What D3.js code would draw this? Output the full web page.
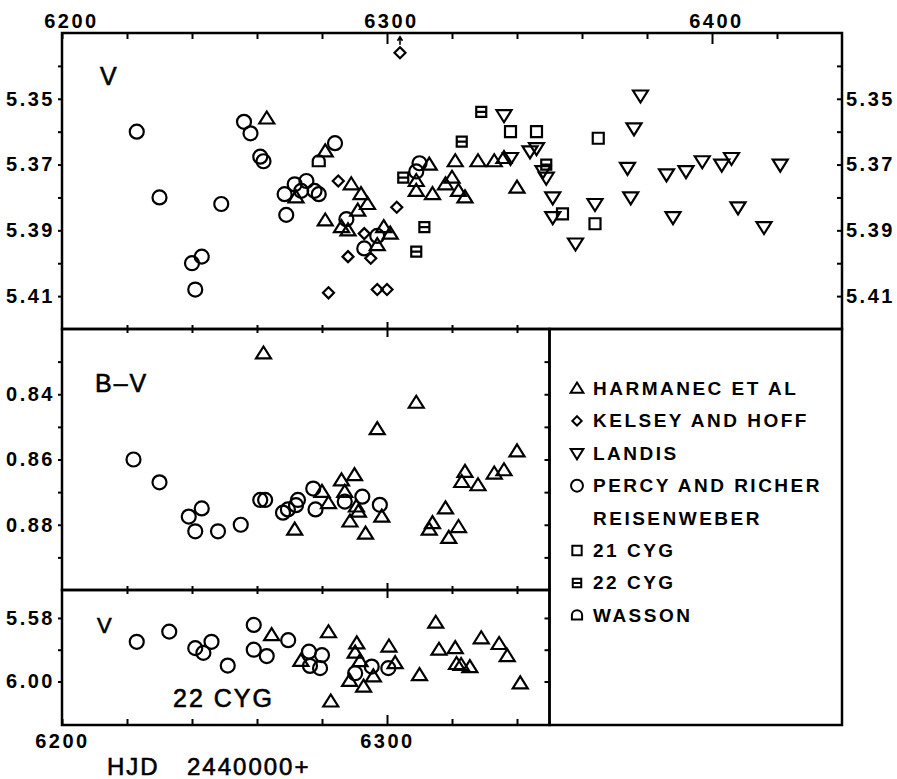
<!DOCTYPE html>
<html>
<head>
<meta charset="utf-8">
<script src="https://cdn.jsdelivr.net/npm/d3@7"></script>
<style>
  body { margin: 0; background: #fff; }
  svg text { font-family: "Liberation Sans", Arial, sans-serif; fill: #000; }
  .axis text { font: bold 20px "Liberation Sans", Arial, sans-serif; letter-spacing: 2.5px; fill: #000; }
  .axis line { stroke: #000; stroke-width: 2px; }
</style>
</head>
<body>
<div id="chart"></div>
<script>
// ---- top panel: V of the variable, HJD - 2440000 ----
const harmanecV = [
  [6263, 5.356], [6281, 5.366], [6272, 5.380], [6289, 5.376], [6292, 5.379], [6294, 5.382],
  [6291, 5.384], [6281, 5.387], [6286, 5.389], [6288, 5.390], [6297, 5.3945], [6299, 5.389],
  [6301, 5.391], [6309, 5.375], [6309, 5.378], [6313, 5.370], [6314, 5.379], [6318, 5.376],
  [6320, 5.374], [6322, 5.378], [6324, 5.380], [6321, 5.369], [6328, 5.369], [6333, 5.369],
  [6336, 5.368], [6340, 5.377]
];
const kelseyV = [
  [6304, 5.336], [6285, 5.375], [6303, 5.383], [6293, 5.391], [6288, 5.398], [6295, 5.3985],
  [6282, 5.409], [6297, 5.408], [6300, 5.408]
];
const landisV = [
  [6336, 5.355], [6378, 5.349], [6376, 5.359], [6338, 5.368], [6344, 5.366], [6346, 5.365],
  [6348, 5.372], [6349, 5.374], [6351, 5.380], [6351, 5.386], [6358, 5.394], [6364, 5.382],
  [6374, 5.371], [6375, 5.380], [6386, 5.373], [6388, 5.386], [6392, 5.372], [6397, 5.369],
  [6403, 5.370], [6406, 5.368], [6408, 5.383], [6416, 5.389], [6421, 5.370]
];
const percyV = [
  [6223, 5.360], [6230, 5.380], [6249, 5.382], [6240, 5.400], [6243, 5.398], [6241, 5.408],
  [6256, 5.357], [6258, 5.3605], [6261, 5.3676], [6262, 5.369], [6284, 5.3635], [6268.5, 5.379],
  [6271.6, 5.376], [6273.6, 5.378], [6275.2, 5.375], [6277.7, 5.378], [6279, 5.379], [6269, 5.3853],
  [6287.5, 5.3866], [6293, 5.3955], [6297, 5.3917], [6310, 5.3696], [6309, 5.3721]
];
const cyg21V = [[6338, 5.360], [6346, 5.360], [6365, 5.362], [6354, 5.385], [6364, 5.388]];
const cyg22V = [[6305, 5.374], [6311.5, 5.389], [6309, 5.3965], [6329, 5.354], [6323, 5.363], [6349, 5.370]];
const wassonV = [[6279, 5.369]];
const arrowPoints = [[6304, 5.336]];

// ---- middle panel: B-V ----
const percyBV = [
  [6222, 0.860], [6230, 0.867], [6239, 0.8775], [6243, 0.875], [6241, 0.882], [6248, 0.882],
  [6255, 0.880], [6261, 0.8724], [6262.5, 0.8724], [6268, 0.8763], [6269.5, 0.8753], [6272, 0.874],
  [6272.6, 0.8724], [6277.3, 0.8689], [6278, 0.8753], [6287, 0.8729], [6292.4, 0.8714], [6297.8, 0.8739]
];
const harmanecBV = [
  [6262, 0.8275], [6309, 0.8426], [6297, 0.8507], [6340, 0.8575], [6336, 0.8633], [6333, 0.8643],
  [6324, 0.8638], [6323, 0.8669], [6328, 0.8679], [6318, 0.875], [6314, 0.8795], [6313, 0.8815],
  [6322, 0.8807], [6319, 0.884], [6286, 0.8664], [6290, 0.8648], [6287, 0.8699], [6280, 0.8699],
  [6282, 0.8734], [6290.6, 0.8744], [6291.2, 0.876], [6288.6, 0.879], [6293.4, 0.8827],
  [6298.4, 0.8775], [6271.6, 0.8815]
];

// ---- bottom panel: V of 22 Cyg ----
const percy22 = [
  [6223, 5.9875], [6233, 5.9843], [6241, 5.9895], [6243.5, 5.991], [6246, 5.9875], [6251, 5.995],
  [6259, 5.9822], [6259, 5.990], [6263, 5.992], [6269.6, 5.987], [6276, 5.9906], [6280, 5.9917],
  [6276.3, 5.9951], [6279.4, 5.9958], [6290.2, 5.9974], [6295.3, 5.9953], [6300.4, 5.9958]
];
const harmanec22 = [
  [6264.5, 5.9854], [6273.5, 5.9935], [6282, 5.9845], [6282.7, 6.0063], [6290.7, 5.988], [6290.2, 5.9909],
  [6291.7, 5.9936], [6288.5, 5.9998], [6292.8, 6.0016], [6295.8, 5.9984], [6300.6, 5.989], [6302.5, 5.9942],
  [6310, 5.998], [6315, 5.9815], [6316, 5.990], [6321, 5.9895], [6321.4, 5.9945], [6322.8, 5.9948],
  [6325.5, 5.9955], [6329, 5.9864], [6334.5, 5.9882], [6337, 5.992], [6341, 6.0006]
];

// ---- ticks and legend ----
const xTicks = d3.range(6220, 6440, 20);
const xLabels = [6200, 6300, 6400];
const yTicksV = [5.34, 5.35, 5.36, 5.37, 5.38, 5.39, 5.40, 5.41];
const yLabelsV = ['', '5.35', '', '5.37', '', '5.39', '', '5.41'];
const yTicksBV = [0.83, 0.84, 0.85, 0.86, 0.87, 0.88, 0.89];
const yLabelsBV = ['', '0.84', '', '0.86', '', '0.88', ''];
const yTicks22 = [5.98, 5.99, 6.00];
const yLabels22 = ['5.58', '', '6.00'];   // printed this way in the original
const legendLabels = ['HARMANEC ET AL', 'KELSEY AND HOFF', 'LANDIS', 'PERCY AND RICHER', 'REISENWEBER', '21 CYG', '22 CYG', 'WASSON'];
const legendSymbols = ['up', 'diamond', 'down', 'circle', null, 'square', 'squareBar', 'arch'];

const W = 897, H = 779;
const svg = d3.select('#chart').append('svg').attr('width', W).attr('height', H);

const x = d3.scaleLinear().domain([6200, 6440]).range([62, 842]);
const xSplit = x(6350);
const yV = d3.scaleLinear().domain([5.33, 5.42]).range([33, 329]);
const yBV = d3.scaleLinear().domain([0.82, 0.90]).range([329, 590]);
const y22 = d3.scaleLinear().domain([5.9712, 6.0137]).range([590, 725]);

// marker outlines, k scales them down for the legend
function shape(type, k = 1) {
  const p = v => (v * k).toFixed(2);
  switch (type) {
    case 'up': return `M0,${p(-7)}L${p(7.5)},${p(5)}L${p(-7.5)},${p(5)}Z`;
    case 'down': return `M${p(-7.5)},${p(-5)}L${p(7.5)},${p(-5)}L0,${p(7)}Z`;
    case 'diamond': return `M0,${p(-5.5)}L${p(5.5)},0L0,${p(5.5)}L${p(-5.5)},0Z`;
    case 'circle': return `M${p(-7)},0A${p(7)},${p(7)} 0 1,0 ${p(7)},0A${p(7)},${p(7)} 0 1,0 ${p(-7)},0Z`;
    case 'square': return `M${p(-5.5)},${p(-5.5)}H${p(5.5)}V${p(5.5)}H${p(-5.5)}Z`;
    case 'squareBar': return `M${p(-5)},${p(-5)}H${p(5)}V${p(5)}H${p(-5)}ZM${p(-5)},0H${p(5)}`;
    case 'arch': return `M${p(-6)},${p(5)}V0A${p(6)},${p(6)} 0 0,1 ${p(6)},0V${p(5)}Z`;
  }
}

function plotSeries(data, type, yScale) {
  svg.append('g').selectAll('path').data(data).join('path')
    .attr('transform', d => `translate(${x(d[0])},${yScale(d[1])})`)
    .attr('d', shape(type))
    .attr('fill', 'none')
    .attr('stroke', '#000')
    .attr('stroke-width', 2.2);
}

function styleAxis(g) {
  g.attr('class', 'axis');
  g.select('.domain').remove();
}

const fmtX = d => xLabels.includes(d) ? String(d) : '';
const pick = (ticks, labels) => d => labels[ticks.findIndex(t => Math.abs(t - d) < 1e-6)];

// top panel axes
svg.append('g').attr('transform', 'translate(0,33)')
  .call(d3.axisTop(x).tickValues(xTicks.concat([6200])).tickSize(-6).tickPadding(5).tickFormat(fmtX))
  .call(styleAxis)
  .call(g => g.selectAll('.tick text').attr('x', d => d === 6200 ? 9 : 4))
  .call(g => g.selectAll('.tick line').attr('y2', d => d === 6300 || d === 6400 ? 11 : 6));
svg.append('g').attr('transform', 'translate(62,0)')
  .call(d3.axisLeft(yV).tickValues(yTicksV).tickSize(4).tickPadding(3).tickFormat(pick(yTicksV, yLabelsV)))
  .call(styleAxis);
svg.append('g').attr('transform', 'translate(842,0)')
  .call(d3.axisRight(yV).tickValues(yTicksV).tickSizeInner(-5).tickPadding(4).tickFormat(pick(yTicksV, yLabelsV)))
  .call(styleAxis);

// shared boundaries between panels, ticks crossing the line
const lowTicks = xTicks.filter(v => v < 6350);
[329, 590].forEach(yy => {
  svg.append('g').attr('transform', `translate(0,${yy})`)
    .call(d3.axisBottom(x).tickValues(lowTicks).tickSize(4).tickFormat(''))
    .call(styleAxis)
    .call(g => g.selectAll('.tick line').attr('y1', d => d === 6300 ? -7 : -4).attr('y2', d => d === 6300 ? 8 : 4));
});

// middle panel axes
svg.append('g').attr('transform', 'translate(62,0)')
  .call(d3.axisLeft(yBV).tickValues(yTicksBV).tickSize(4).tickPadding(3).tickFormat(pick(yTicksBV, yLabelsBV)))
  .call(styleAxis);
svg.append('g').attr('transform', `translate(${xSplit},0)`)
  .call(d3.axisRight(yBV).tickValues(yTicksBV).tickSizeInner(-5).tickFormat(''))
  .call(styleAxis);

// bottom panel axes
svg.append('g').attr('transform', 'translate(62,0)')
  .call(d3.axisLeft(y22).tickValues(yTicks22).tickSize(4).tickPadding(3).tickFormat(pick(yTicks22, yLabels22)))
  .call(styleAxis);
svg.append('g').attr('transform', `translate(${xSplit},0)`)
  .call(d3.axisRight(y22).tickValues(yTicks22).tickSizeInner(-5).tickFormat(''))
  .call(styleAxis);
svg.append('g').attr('transform', 'translate(0,725)')
  .call(d3.axisBottom(x).tickValues(lowTicks.concat([6200])).tickSize(-6).tickPadding(9)
    .tickFormat(d => d === 6200 || d === 6300 ? String(d) : ''))
  .call(styleAxis)
  .call(g => g.selectAll('.tick line').attr('y2', d => d === 6300 ? -10 : -6));

// frames
const frame = (x0, y0, x1, y1) => svg.append('rect')
  .attr('x', x0).attr('y', y0).attr('width', x1 - x0).attr('height', y1 - y0)
  .attr('fill', 'none').attr('stroke', '#000').attr('stroke-width', 2.5);
frame(x(6200), yV(5.33), x(6440), yV(5.42));
frame(x(6200), yBV(0.82), xSplit, yBV(0.90));
frame(x(6200), y22.range()[0], xSplit, y22.range()[1]);
frame(xSplit, yBV(0.82), x(6440), y22.range()[1]);

// data
plotSeries(percyV, 'circle', yV);
plotSeries(harmanecV, 'up', yV);
plotSeries(kelseyV, 'diamond', yV);
plotSeries(landisV, 'down', yV);
plotSeries(cyg21V, 'square', yV);
plotSeries(cyg22V, 'squareBar', yV);
plotSeries(wassonV, 'arch', yV);
plotSeries(percyBV, 'circle', yBV);
plotSeries(harmanecBV, 'up', yBV);
plotSeries(percy22, 'circle', y22);
plotSeries(harmanec22, 'up', y22);

// arrow above the off-scale Kelsey point
arrowPoints.forEach(d => {
  const ax = x(d[0]), ay = yV(d[1]) - 8;
  svg.append('path')
    .attr('d', `M${ax},${ay}V${ay - 7}M${ax - 2.5},${ay - 4}L${ax},${ay - 8}L${ax + 2.5},${ay - 4}`)
    .attr('fill', 'none').attr('stroke', '#000').attr('stroke-width', 1.6);
});

// panel labels
const bigText = (tx, ty, s, size) => svg.append('text')
  .attr('x', tx).attr('y', ty).attr('font-size', size)
  .attr('stroke', '#000').attr('stroke-width', 0.6)
  .style('letter-spacing', '2px').text(s);
bigText(100, 85, 'V', 25);
bigText(95, 392, 'B\u2013V', 25);
bigText(97, 633, 'V', 22);
bigText(173, 707, '22 CYG', 25);
bigText(107, 775, 'HJD', 24);
bigText(187, 775, '2440000+', 24);

// legend
legendLabels.forEach((lab, i) => {
  const ly = 395 + i * 32.4;
  if (legendSymbols[i]) {
    svg.append('path')
      .attr('transform', `translate(577,${ly - 6.5})`)
      .attr('d', shape(legendSymbols[i], 0.85))
      .attr('fill', 'none').attr('stroke', '#000').attr('stroke-width', 2);
  }
  svg.append('text')
    .attr('x', 593).attr('y', ly)
    .attr('font-size', 19).attr('font-weight', 'bold')
    .style('letter-spacing', '2.5px')
    .text(lab);
});
</script>
</body>
</html>
